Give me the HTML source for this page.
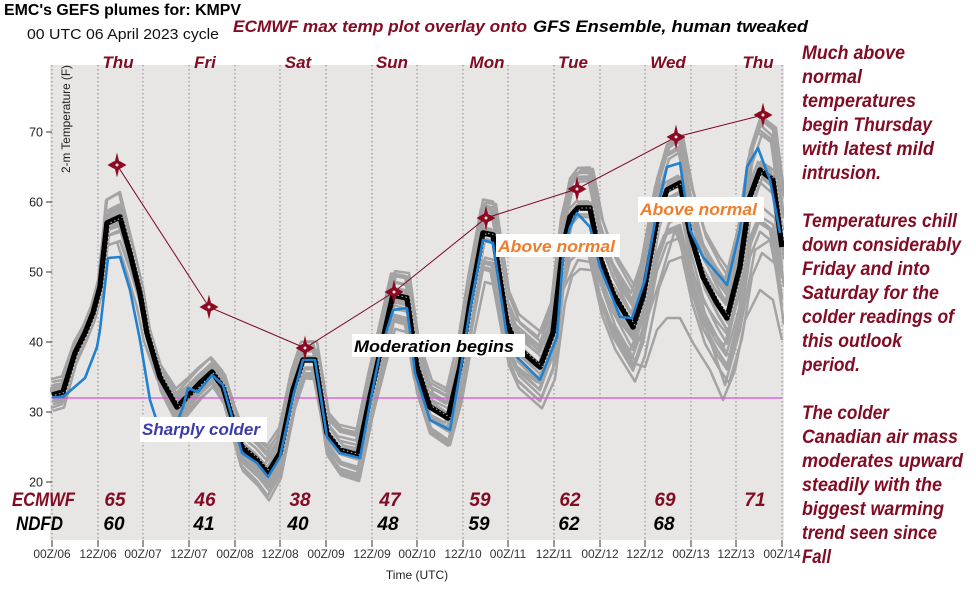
<!DOCTYPE html>
<html>
<head>
<meta charset="utf-8">
<style>
html,body{margin:0;padding:0;background:#fff;}
svg{display:block;}
text{font-family:"Liberation Sans",Arial,sans-serif;}
.bi{font-weight:bold;font-style:italic;}
.red{fill:#820c24;}
</style>
</head>
<body>
<svg width="976" height="596" viewBox="0 0 976 596" xmlns="http://www.w3.org/2000/svg" xmlns:xlink="http://www.w3.org/1999/xlink">
<defs>
  <clipPath id="pc"><rect x="50" y="65" width="734" height="475"/></clipPath>
  <path id="mean" fill="none" vector-effect="non-scaling-stroke" stroke-linejoin="round" d="M52,395 L63,392 L75,353 L85,333 L93,313 L100,287 L107,223 L120,217 L130,253 L140,293 L147,333 L160,377 L177,407 L187,397 L200,383 L212,372 L223,387 L232,417 L242,447 L257,460 L268,473 L280,453 L293,390 L303,360 L315,360 L327,433 L340,450 L358,455 L370,397 L380,353 L393,295 L407,298 L417,367 L430,407 L448,418 L460,367 L470,303 L483,233 L493,235 L507,323 L517,347 L540,367 L553,333 L563,247 L570,217 L578,208 L590,208 L600,257 L613,293 L633,327 L643,297 L657,220 L667,190 L680,183 L690,233 L703,277 L717,303 L727,318 L740,267 L750,197 L760,170 L773,180 L782,247"/>
  <path id="star" d="M0,-12.5 L2,-4 L3.5,-3.5 L9.5,0 L3.5,3.5 L2,4 L0,12.5 L-2,4 L-3.5,3.5 L-9.5,0 L-3.5,-3.5 L-2,-4 Z"/>
</defs>

<!-- titles -->
<text x="4" y="15" font-size="16" font-weight="bold" fill="#000" textLength="237" lengthAdjust="spacingAndGlyphs">EMC's GEFS plumes for: KMPV</text>
<text x="27" y="39" font-size="15" fill="#111" textLength="192" lengthAdjust="spacingAndGlyphs">00 UTC 06 April 2023 cycle</text>
<text x="233" y="32" font-size="17" class="bi red" textLength="294" lengthAdjust="spacingAndGlyphs">ECMWF max temp plot overlay onto</text>
<text x="533" y="32" font-size="17" class="bi" fill="#000" textLength="275" lengthAdjust="spacingAndGlyphs">GFS Ensemble, human tweaked</text>

<!-- plot background -->
<rect x="50" y="65" width="734" height="475" fill="#e8e5e5"/>

<!-- vertical dotted grid -->
<g stroke="#a6a6a6" stroke-width="1.5" stroke-dasharray="1.5,2.5">
  <line x1="52" y1="65" x2="52" y2="540"/>
  <line x1="98" y1="65" x2="98" y2="540"/>
  <line x1="143" y1="65" x2="143" y2="540"/>
  <line x1="189" y1="65" x2="189" y2="540"/>
  <line x1="235" y1="65" x2="235" y2="540"/>
  <line x1="280" y1="65" x2="280" y2="540"/>
  <line x1="326" y1="65" x2="326" y2="540"/>
  <line x1="372" y1="65" x2="372" y2="540"/>
  <line x1="417" y1="65" x2="417" y2="540"/>
  <line x1="463" y1="65" x2="463" y2="540"/>
  <line x1="508" y1="65" x2="508" y2="540"/>
  <line x1="554" y1="65" x2="554" y2="540"/>
  <line x1="600" y1="65" x2="600" y2="540"/>
  <line x1="645" y1="65" x2="645" y2="540"/>
  <line x1="691" y1="65" x2="691" y2="540"/>
  <line x1="736" y1="65" x2="736" y2="540"/>
  <line x1="782" y1="65" x2="782" y2="540"/>
</g>

<!-- day labels -->
<g font-size="17" class="bi red" text-anchor="middle">
  <text x="118" y="68">Thu</text>
  <text x="205" y="68">Fri</text>
  <text x="298" y="68">Sat</text>
  <text x="392" y="68">Sun</text>
  <text x="487" y="68">Mon</text>
  <text x="573" y="68">Tue</text>
  <text x="668" y="68">Wed</text>
  <text x="758" y="68">Thu</text>
</g>

<!-- y axis -->
<g stroke="#333" stroke-width="1">
  <line x1="46" y1="132" x2="52" y2="132"/>
  <line x1="46" y1="202" x2="52" y2="202"/>
  <line x1="46" y1="272" x2="52" y2="272"/>
  <line x1="46" y1="342" x2="52" y2="342"/>
  <line x1="46" y1="412" x2="52" y2="412"/>
  <line x1="46" y1="482" x2="52" y2="482"/>
</g>
<g font-size="12.5" fill="#222" text-anchor="end">
  <text x="43" y="136.5">70</text>
  <text x="43" y="206.5">60</text>
  <text x="43" y="276.5">50</text>
  <text x="43" y="346.5">40</text>
  <text x="43" y="416.5">30</text>
  <text x="43" y="486.5">20</text>
</g>
<text transform="translate(70,173) rotate(-90)" font-size="12" fill="#222" textLength="108" lengthAdjust="spacingAndGlyphs">2-m Temperature (F)</text>

<!-- ensemble members -->
<g clip-path="url(#pc)">
<g stroke="#a3a3a3" stroke-width="2.5" fill="none" stroke-linejoin="round">
  <use xlink:href="#mean" href="#mean" transform="matrix(1,0,0,1,0,-3)"/>
  <use xlink:href="#mean" href="#mean" transform="matrix(1,0.02,0,1.05,2,-15.54)"/>
  <use xlink:href="#mean" href="#mean" transform="matrix(1,-0.02,0,0.95,-2,15.54)"/>
  <use xlink:href="#mean" href="#mean" transform="matrix(1,0.04,0,1.1,0,-35.08)"/>
  <use xlink:href="#mean" href="#mean" transform="matrix(1,-0.04,0,0.9,1,39.08)"/>
  <use xlink:href="#mean" href="#mean" transform="matrix(1,0.06,0,0.92,-1,19.28)"/>
  <use xlink:href="#mean" href="#mean" transform="matrix(1,-0.06,0,1.08,3,-20.28)"/>
  <use xlink:href="#mean" href="#mean" transform="matrix(1,0.03,0,0.85,-3,53.94)"/>
  <use xlink:href="#mean" href="#mean" transform="matrix(1,-0.03,0,1.15,0,-53.94)"/>
  <use xlink:href="#mean" href="#mean" transform="matrix(1,0.05,0,1.02,2,-4.2)"/>
  <use xlink:href="#mean" href="#mean" transform="matrix(1,-0.05,0,0.98,-2,4.2)"/>
  <use xlink:href="#mean" href="#mean" transform="matrix(1,0.01,0,1.12,1,-32.12)"/>
  <use xlink:href="#mean" href="#mean" transform="matrix(1,-0.01,0,0.88,-1,32.12)"/>
  <use xlink:href="#mean" href="#mean" transform="matrix(1,0.07,0,1,0,-3.64)"/>
  <use xlink:href="#mean" href="#mean" transform="matrix(1,-0.07,0,1,2,3.64)"/>
  <use xlink:href="#mean" href="#mean" transform="matrix(1,0.02,0,0.8,0,64.96)"/>
  <use xlink:href="#mean" href="#mean" transform="matrix(1,-0.02,0,1.2,-1,-64.96)"/>
  <use xlink:href="#mean" href="#mean" transform="matrix(1,0.08,0,0.95,0,9.34)"/>
  <use xlink:href="#mean" href="#mean" transform="matrix(1,0,0,1.05,1,-10.5)"/>
  <use xlink:href="#mean" href="#mean" transform="matrix(1,-0.04,0,1.05,-1,-18.42)"/>
  <use xlink:href="#mean" href="#mean" transform="matrix(1,0.1,0,0.9,2,24)"/>
  <use xlink:href="#mean" href="#mean" transform="matrix(1,-0.03,0,1.1,2,-30)"/>
  <path d="M540,360 L553,340 L563,290 L578,260 L590,262 L600,300 L613,330 L633,363 L645,367 L657,330 L667,318 L680,318 L693,343 L710,370 L723,400 L735,370 L745,320 L760,290 L773,300 L782,340"/>
  <path d="M600,280 L620,320 L640,340 L660,280 L675,230 L690,270 L710,340 L725,385 L740,330 L755,250 L770,240 L782,300"/>
</g>

<!-- magenta normal line -->
<line x1="52" y1="398" x2="782" y2="398" stroke="#d94fd9" stroke-width="1.2"/>

<!-- ensemble mean (black) -->
<use xlink:href="#mean" href="#mean" stroke="#000" stroke-width="5.5"/>
<use xlink:href="#mean" href="#mean" stroke="#ffffff" stroke-width="1" stroke-dasharray="1.5,2.5" transform="translate(3,0)" opacity="0.7"/>

<!-- blue line -->
<path fill="none" stroke="#2181d1" stroke-width="2.6" stroke-linejoin="round" d="M52,397 L63,397 L85,378 L97,347 L100,330 L108,258 L120,257 L130,290 L140,340 L150,400 L158,425 L168,432 L178,420 L183,407 L188,388 L198,392 L212,375 L223,385 L232,417 L242,453 L257,463 L268,477 L280,457 L293,397 L303,360 L315,360 L327,437 L340,453 L360,458 L372,393 L380,353 L393,310 L407,308 L415,373 L430,420 L450,430 L460,373 L470,310 L483,240 L493,243 L507,337 L517,357 L540,380 L557,337 L563,257 L570,227 L577,213 L590,227 L600,267 L620,317 L632,318 L645,280 L657,210 L667,167 L680,163 L690,230 L703,257 L723,280 L727,285 L740,230 L747,167 L758,148 L770,180 L780,233"/>
</g>

<!-- ECMWF overlay line + markers -->
<polyline fill="none" stroke="#7a0a20" stroke-width="1" points="117,165 209,307 305,348 394,292 486,218 577,189 676,137 763,115"/>
<g fill="#8b0a22">
  <use xlink:href="#star" href="#star" transform="translate(117,165)"/>
  <use xlink:href="#star" href="#star" transform="translate(209,307)"/>
  <use xlink:href="#star" href="#star" transform="translate(305,348)"/>
  <use xlink:href="#star" href="#star" transform="translate(394,292)"/>
  <use xlink:href="#star" href="#star" transform="translate(486,218)"/>
  <use xlink:href="#star" href="#star" transform="translate(577,189)"/>
  <use xlink:href="#star" href="#star" transform="translate(676,137)"/>
  <use xlink:href="#star" href="#star" transform="translate(763,115)"/>
</g>
<g fill="#f4dede">
  <circle cx="117" cy="165" r="1.5"/><circle cx="209" cy="307" r="1.5"/><circle cx="305" cy="348" r="1.5"/><circle cx="394" cy="292" r="1.5"/>
  <circle cx="486" cy="218" r="1.5"/><circle cx="577" cy="189" r="1.5"/><circle cx="676" cy="137" r="1.5"/><circle cx="763" cy="115" r="1.5"/>
</g>

<!-- annotation boxes -->
<rect x="140" y="417" width="127" height="25" fill="#fff"/>
<text x="142" y="435" font-size="17" class="bi" fill="#3c3ca8" textLength="118" lengthAdjust="spacingAndGlyphs">Sharply colder</text>

<rect x="352" y="334" width="173" height="23" fill="#fff"/>
<text x="354" y="352" font-size="17" class="bi" fill="#000" textLength="160" lengthAdjust="spacingAndGlyphs">Moderation begins</text>

<rect x="496" y="234" width="124" height="23" fill="#fff"/>
<text x="498" y="252" font-size="17" class="bi" fill="#ef7d2c" textLength="117" lengthAdjust="spacingAndGlyphs">Above normal</text>

<rect x="638" y="197" width="126" height="25" fill="#fff"/>
<text x="640" y="215" font-size="17" class="bi" fill="#ef7d2c" textLength="117" lengthAdjust="spacingAndGlyphs">Above normal</text>

<!-- ECMWF / NDFD rows -->
<text x="12" y="506" font-size="19" class="bi red" textLength="63" lengthAdjust="spacingAndGlyphs">ECMWF</text>
<text x="16" y="530" font-size="19" class="bi" fill="#000" textLength="47" lengthAdjust="spacingAndGlyphs">NDFD</text>
<g font-size="19" class="bi red" text-anchor="middle">
  <text x="115" y="506">65</text>
  <text x="205" y="506">46</text>
  <text x="300" y="506">38</text>
  <text x="390" y="506">47</text>
  <text x="480" y="506">59</text>
  <text x="570" y="506">62</text>
  <text x="665" y="506">69</text>
  <text x="755" y="506">71</text>
</g>
<g font-size="19" class="bi" fill="#000" text-anchor="middle">
  <text x="114" y="530">60</text>
  <text x="204" y="530">41</text>
  <text x="298" y="530">40</text>
  <text x="388" y="530">48</text>
  <text x="479" y="530">59</text>
  <text x="569" y="530">62</text>
  <text x="664" y="530">68</text>
</g>

<!-- x axis ticks -->
<g stroke="#333" stroke-width="1">
  <line x1="52" y1="540" x2="52" y2="547"/><line x1="98" y1="540" x2="98" y2="547"/>
  <line x1="143" y1="540" x2="143" y2="547"/><line x1="189" y1="540" x2="189" y2="547"/>
  <line x1="235" y1="540" x2="235" y2="547"/><line x1="280" y1="540" x2="280" y2="547"/>
  <line x1="326" y1="540" x2="326" y2="547"/><line x1="372" y1="540" x2="372" y2="547"/>
  <line x1="417" y1="540" x2="417" y2="547"/><line x1="463" y1="540" x2="463" y2="547"/>
  <line x1="508" y1="540" x2="508" y2="547"/><line x1="554" y1="540" x2="554" y2="547"/>
  <line x1="600" y1="540" x2="600" y2="547"/><line x1="645" y1="540" x2="645" y2="547"/>
  <line x1="691" y1="540" x2="691" y2="547"/><line x1="736" y1="540" x2="736" y2="547"/>
  <line x1="782" y1="540" x2="782" y2="547"/>
</g>
<g font-size="12" fill="#333" text-anchor="middle">
  <text x="52" y="558">00Z/06</text>
  <text x="98" y="558">12Z/06</text>
  <text x="143" y="558">00Z/07</text>
  <text x="189" y="558">12Z/07</text>
  <text x="235" y="558">00Z/08</text>
  <text x="280" y="558">12Z/08</text>
  <text x="326" y="558">00Z/09</text>
  <text x="372" y="558">12Z/09</text>
  <text x="417" y="558">00Z/10</text>
  <text x="463" y="558">12Z/10</text>
  <text x="508" y="558">00Z/11</text>
  <text x="554" y="558">12Z/11</text>
  <text x="600" y="558">00Z/12</text>
  <text x="645" y="558">12Z/12</text>
  <text x="691" y="558">00Z/13</text>
  <text x="736" y="558">12Z/13</text>
  <text x="782" y="558">00Z/14</text>
</g>
<text x="417" y="579" font-size="12" fill="#222" text-anchor="middle">Time (UTC)</text>

<!-- right commentary -->
<g font-size="19" class="bi red">
  <text x="802" y="59" textLength="103" lengthAdjust="spacingAndGlyphs">Much above</text>
  <text x="802" y="83" textLength="60" lengthAdjust="spacingAndGlyphs">normal</text>
  <text x="802" y="107" textLength="114" lengthAdjust="spacingAndGlyphs">temperatures</text>
  <text x="802" y="131" textLength="130" lengthAdjust="spacingAndGlyphs">begin Thursday</text>
  <text x="802" y="155" textLength="132" lengthAdjust="spacingAndGlyphs">with latest mild</text>
  <text x="802" y="179" textLength="79" lengthAdjust="spacingAndGlyphs">intrusion.</text>
  <text x="802" y="227" textLength="155" lengthAdjust="spacingAndGlyphs">Temperatures chill</text>
  <text x="802" y="251" textLength="159" lengthAdjust="spacingAndGlyphs">down considerably</text>
  <text x="802" y="275" textLength="128" lengthAdjust="spacingAndGlyphs">Friday and into</text>
  <text x="802" y="299" textLength="137" lengthAdjust="spacingAndGlyphs">Saturday for the</text>
  <text x="802" y="323" textLength="152" lengthAdjust="spacingAndGlyphs">colder readings of</text>
  <text x="802" y="347" textLength="100" lengthAdjust="spacingAndGlyphs">this outlook</text>
  <text x="802" y="371" textLength="58" lengthAdjust="spacingAndGlyphs">period.</text>
  <text x="802" y="419" textLength="87" lengthAdjust="spacingAndGlyphs">The colder</text>
  <text x="802" y="443" textLength="156" lengthAdjust="spacingAndGlyphs">Canadian air mass</text>
  <text x="802" y="467" textLength="161" lengthAdjust="spacingAndGlyphs">moderates upward</text>
  <text x="802" y="491" textLength="140" lengthAdjust="spacingAndGlyphs">steadily with the</text>
  <text x="802" y="515" textLength="142" lengthAdjust="spacingAndGlyphs">biggest warming</text>
  <text x="802" y="539" textLength="135" lengthAdjust="spacingAndGlyphs">trend seen since</text>
  <text x="802" y="563" textLength="29" lengthAdjust="spacingAndGlyphs">Fall</text>
</g>
</svg>
</body>
</html>
